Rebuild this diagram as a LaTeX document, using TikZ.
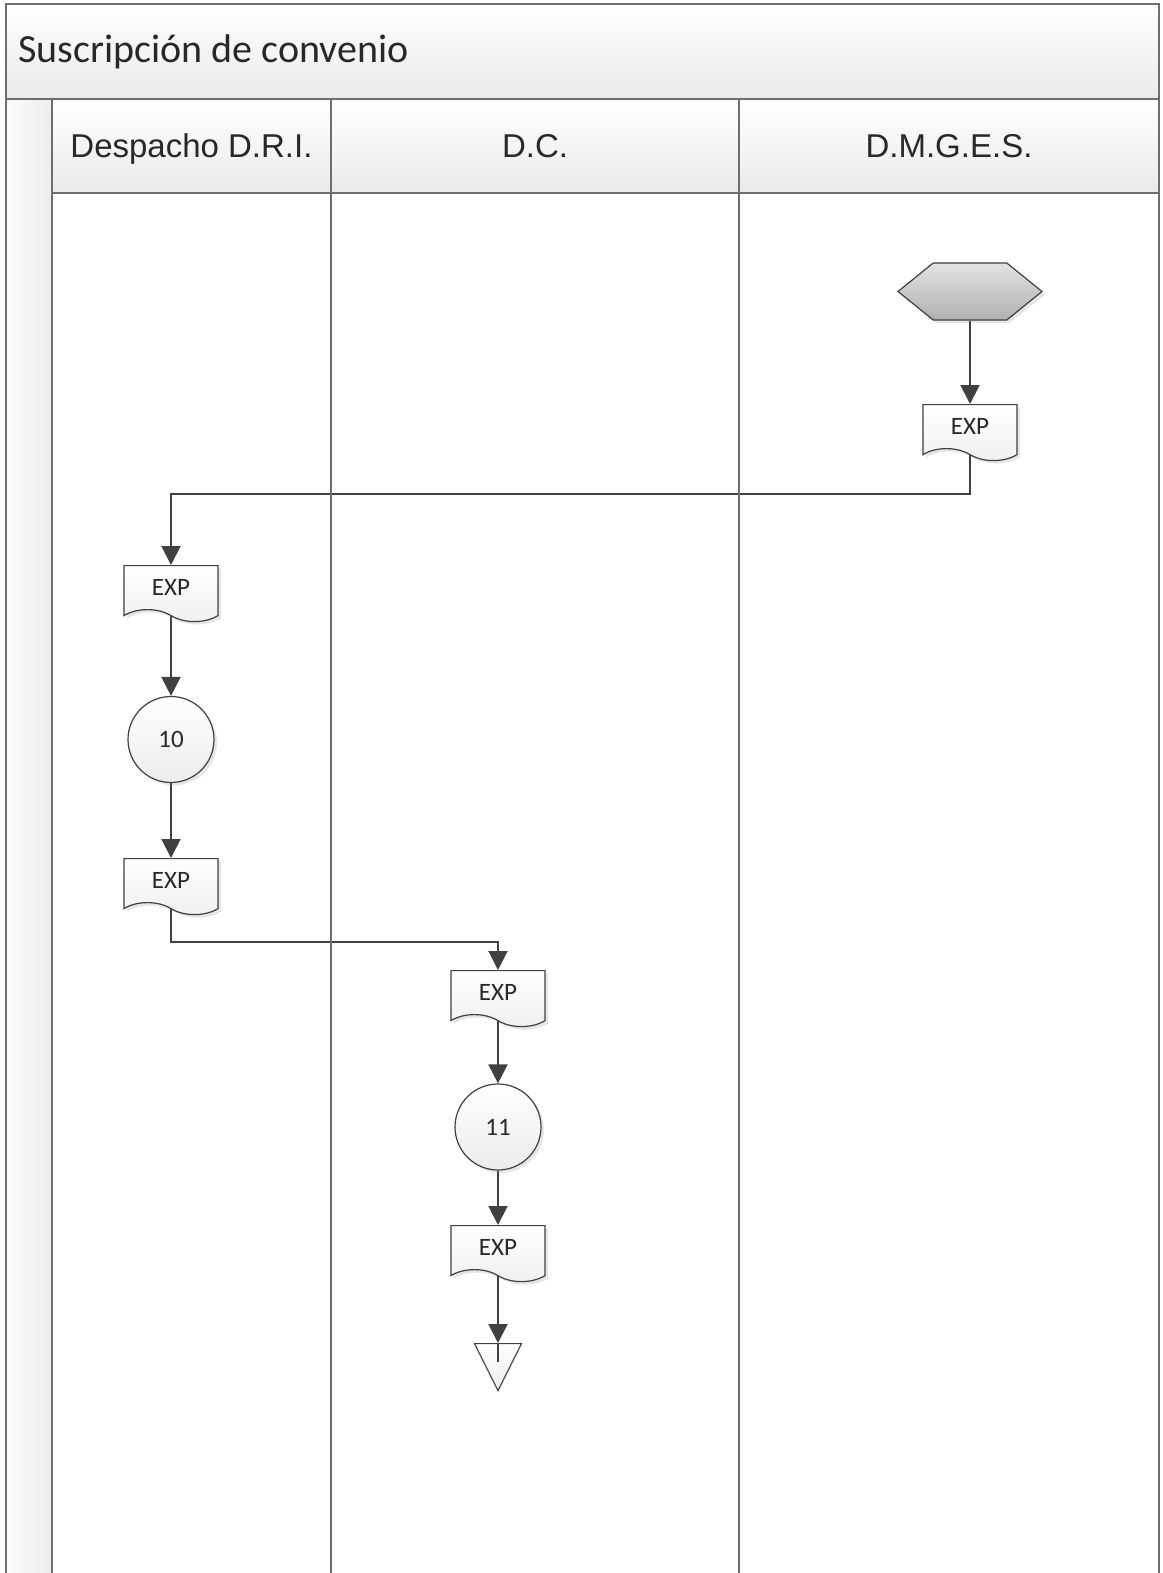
\documentclass[tikz,border=0pt]{standalone}
\usepackage{fontspec}
\setmainfont{Carlito}
\newfontfamily\headfont{Liberation Sans}
\usetikzlibrary{positioning,arrows.meta,shapes.geometric,shapes.symbols,shadows,backgrounds}
\definecolor{lane-line}{RGB}{110,110,110}
\definecolor{flow-line}{RGB}{64,64,64}
\definecolor{band-gray}{RGB}{234,234,234}
\definecolor{text-gray}{RGB}{40,40,40}

\begin{document}
\begin{tikzpicture}[x=1pt, y=-1pt,
    frame/.style={draw=lane-line, line width=2.4pt},
    band/.style={top color=white, bottom color=band-gray},
    lanehead/.style={anchor=base, font=\headfont\fontsize{33}{40}\selectfont, text=text-gray},
    doc/.style={
      tape, tape bend top=none, tape bend bottom=out and in, tape bend height=12pt,
      draw=flow-line, line width=1.2pt, top color=white, bottom color=gray!12,
      minimum width=94pt, minimum height=56pt, inner sep=0pt,
      font=\fontsize{25}{30}\selectfont, text=text-gray,
      drop shadow={shadow xshift=3pt, shadow yshift=-3pt, opacity=.2}},
    stepcircle/.style={
      circle, draw=flow-line, line width=1.2pt, top color=white, bottom color=gray!15,
      minimum size=86pt, inner sep=0pt, font=\fontsize{25}{30}\selectfont, text=text-gray,
      drop shadow={shadow xshift=3pt, shadow yshift=-3pt, opacity=.2}},
    startshape/.style={
      signal, signal to=west and east, signal pointer angle=78,
      draw=flow-line, line width=1.2pt, top color=gray!22, bottom color=gray!62,
      minimum width=144pt, minimum height=57pt, inner sep=0pt,
      drop shadow={shadow xshift=3pt, shadow yshift=-3pt, opacity=.2}},
    endshape/.style={
      isosceles triangle, shape border rotate=270, isosceles triangle stretches,
      draw=flow-line, line width=1.2pt, top color=white, bottom color=gray!15,
      minimum width=47pt, minimum height=47pt, inner sep=0pt},
    flow/.style={-{Triangle[length=19pt, width=19pt]}, flow-line, line width=2pt}
  ]
  \useasboundingbox (0,0) rectangle (1162,1573);

  % title band, header row and left strip
  \shade[band] (6,4) rectangle (1159,99);
  \shade[band] (52,99) rectangle (1159,193);
  \shade[left color=gray!3, right color=gray!14] (6,99) rectangle (52,1573);

  \draw[frame] (6,1573) -- (6,4) -- (1159,4) -- (1159,1573);
  \draw[frame] (6,99) -- (1159,99);
  \draw[frame] (52,193) -- (1159,193);
  \foreach \x in {52,331,739}
    \draw[frame] (\x,99) -- (\x,1573);

  \node[anchor=base west, font=\fontsize{40}{48}\selectfont, text=text-gray]
    (title) at (15,63) {Suscripción de convenio};
  \node[lanehead] (lane-dri) at (191.5,158) {Despacho D.R.I.};
  \node[lanehead] (lane-dc) at (535,158) {D.C.};
  \node[lanehead] (lane-dmges) at (949,158) {D.M.G.E.S.};

  % D.M.G.E.S.
  \node[startshape] (start) at (970,291.5) {};
  \node[doc, anchor=north] (exp1) at (970,404) {EXP};

  % Despacho D.R.I.
  \node[doc, anchor=north] (exp2) at (171,565) {EXP};
  \node[stepcircle] (act10) at (171,739.5) {10};
  \node[doc, anchor=north] (exp3) at (171,858) {EXP};

  % D.C.
  \node[doc, anchor=north] (exp4) at (498,970) {EXP};
  \node[stepcircle] (act11) at (498,1127) {11};
  \node[doc, anchor=north] (exp5) at (498,1225) {EXP};
  \node[endshape, anchor=north] (end) at (498,1343) {};

  \coordinate (turn1) at (970,494);
  \coordinate (turn2) at (171,942);

  \begin{scope}[on background layer]
    \draw[flow] (start.south) -- (exp1.north);
    \draw[flow] (exp1.south) -- (turn1) -| (exp2.north);
    \draw[flow] (exp2.south) -- (act10.north);
    \draw[flow] (act10.south) -- (exp3.north);
    \draw[flow] (exp3.south) -- (turn2) -| (exp4.north);
    \draw[flow] (exp4.south) -- (act11.north);
    \draw[flow] (act11.south) -- (exp5.north);
    \draw[flow] (exp5.south) -- (end.north);
  \end{scope}
  \draw[flow-line, line width=1.2pt] (end.north) -- ++(0,19);
\end{tikzpicture}
\end{document}
